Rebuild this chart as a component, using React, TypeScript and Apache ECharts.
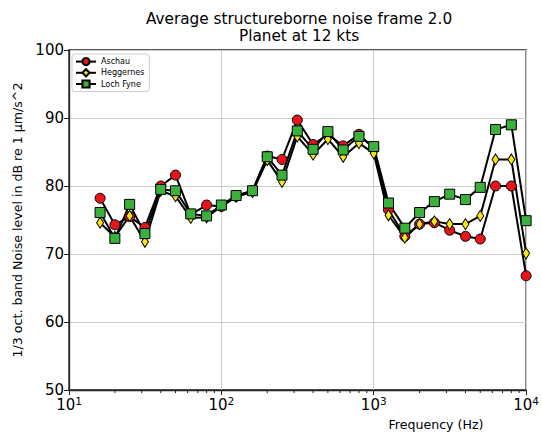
import React, { useEffect, useRef } from "react";
import * as echarts from "echarts";

const frequencies = [16, 20, 25, 31.5, 40, 50, 63, 80, 100, 125, 160, 200, 250, 315, 400, 500, 630, 800, 1000, 1250, 1600, 2000, 2500, 3150, 4000, 5000, 6300, 8000, 10000];
const aschau = [78.2, 74.3, 75.5, 73.9, 80.0, 81.6, 75.8, 77.2, 77.0, 78.5, 79.3, 84.4, 83.9, 89.7, 86.1, 87.6, 85.9, 87.6, 85.5, 76.5, 72.6, 74.4, 74.6, 73.5, 72.6, 72.2, 80.0, 80.0, 66.8];
const heggernes = [74.6, 72.5, 75.6, 71.8, 79.3, 78.5, 75.3, 75.4, 77.0, 78.4, 79.1, 83.8, 80.6, 87.3, 84.6, 86.9, 84.3, 86.3, 84.8, 75.7, 72.4, 74.4, 74.8, 74.4, 74.4, 75.6, 83.9, 83.9, 70.1];
const lochFyne = [76.1, 72.3, 77.3, 73.0, 79.5, 79.3, 75.9, 75.6, 77.2, 78.6, 79.3, 84.3, 81.6, 88.1, 85.4, 88.0, 85.3, 87.3, 85.8, 77.5, 73.8, 76.1, 77.7, 78.8, 78.0, 79.8, 88.3, 89.0, 74.9];
const minorTicks = [20, 30, 40, 50, 60, 70, 80, 90, 200, 300, 400, 500, 600, 700, 800, 900, 2000, 3000, 4000, 5000, 6000, 7000, 8000, 9000];
const yTicks = { min: 50, max: 100, interval: 10 };
const titleLines = ["Average structureborne noise frame 2.0", "Planet at 12 kts"];

const FONT = "DejaVu Sans";

export default function App() {
  const ref = useRef<HTMLDivElement>(null);
  useEffect(() => {
    if (!ref.current) return;
    const chart = echarts.init(ref.current, null, { renderer: "svg" });
    const pair = (vals: number[]) => frequencies.map((f, i) => [f, vals[i]]);
    const lineBase = {
      type: "line",
      lineStyle: { color: "#000", width: 2 },
      z: 3,
    };
    chart.setOption({
      animation: false,
      textStyle: { fontFamily: FONT },
      grid: { left: 69, right: 15, top: 50, bottom: 42, show: true, borderColor: "#222", borderWidth: 1.3, backgroundColor: "#fff" },
      legend: {
        left: 72,
        top: 54,
        orient: "vertical",
        itemWidth: 20,
        itemHeight: 9,
        itemGap: 2,
        padding: [3, 5, 3, 3],
        borderColor: "#ccc",
        borderWidth: 1,
        borderRadius: 3,
        backgroundColor: "#fff",
        textStyle: { fontSize: 8, color: "#000", fontFamily: FONT },
        data: ["Aschau", "Heggernes", "Loch Fyne"],
      },
      xAxis: {
        type: "log",
        logBase: 10,
        min: 10,
        max: 10000,
        axisLine: { show: true, lineStyle: { color: "#222", width: 1.3 } },
        axisTick: { show: true, inside: false, length: 5, lineStyle: { color: "#222" } },
        splitLine: { show: true, lineStyle: { color: "#ccc", width: 1 } },
        axisLabel: {
          margin: 5,
          formatter: (v: number) => `{b|10}{s|${Math.round(Math.log10(v))}}`,
          rich: {
            b: { fontSize: 15, color: "#000", fontFamily: FONT },
            s: { fontSize: 10.5, color: "#000", fontFamily: FONT, padding: [0, 0, 8, 0] },
          },
        },
      },
      yAxis: {
        type: "value",
        min: yTicks.min,
        max: yTicks.max,
        interval: yTicks.interval,
        name: "1/3 oct. band Noise level in dB re 1 µm/s^2",
        nameLocation: "middle",
        nameRotate: 90,
        nameGap: 41,
        nameTextStyle: { fontSize: 12.6, color: "#000", fontFamily: FONT },
        axisLine: { show: true, lineStyle: { color: "#222", width: 1.3 } },
        axisTick: { show: true, inside: false, length: 5, lineStyle: { color: "#222" } },
        splitLine: { show: true, lineStyle: { color: "#ccc", width: 1 } },
        axisLabel: { fontSize: 15, color: "#000", margin: 5, fontFamily: FONT },
      },
      graphic: [
        { type: "text", x: 299, y: 19, style: { text: titleLines[0], fontSize: 15.3, fill: "#000", textAlign: "center", textVerticalAlign: "middle", fontFamily: FONT } },
        { type: "text", x: 299, y: 36, style: { text: titleLines[1], fontSize: 15.3, fill: "#000", textAlign: "center", textVerticalAlign: "middle", fontFamily: FONT } },
        { type: "text", x: 436, y: 424, style: { text: "Frequency (Hz)", fontSize: 12.6, fill: "#000", textAlign: "center", textVerticalAlign: "middle", fontFamily: FONT } },
      ],
      series: [
        {
          ...lineBase,
          name: "Aschau",
          data: pair(aschau),
          symbol: "circle",
          symbolSize: 10,
          itemStyle: { color: "#e8141c", borderColor: "#000", borderWidth: 1 },
        },
        {
          ...lineBase,
          name: "Heggernes",
          data: pair(heggernes),
          symbol: "path://M0,-10 L6,0 L0,10 L-6,0 Z",
          symbolSize: [7, 11],
          itemStyle: { color: "#f5e616", borderColor: "#000", borderWidth: 1 },
        },
        {
          ...lineBase,
          name: "Loch Fyne",
          data: pair(lochFyne),
          symbol: "rect",
          symbolSize: 10,
          itemStyle: { color: "#3cb03c", borderColor: "#000", borderWidth: 1 },
        },
        {
          type: "custom",
          name: "minor",
          silent: true,
          clip: false,
          data: minorTicks.map((f) => [f, yTicks.min]),
          renderItem: (_p: any, api: any) => {
            const p = api.coord([api.value(0), api.value(1)]);
            return {
              type: "line",
              shape: { x1: p[0], y1: p[1], x2: p[0], y2: p[1] + 3 },
              style: { stroke: "#222", lineWidth: 1 },
            };
          },
        },
      ],
    });
    return () => chart.dispose();
  }, []);
  return <div ref={ref} style={{ position: "fixed", left: 0, top: 0, width: 542, height: 432, background: "#fff" }} />;
}
